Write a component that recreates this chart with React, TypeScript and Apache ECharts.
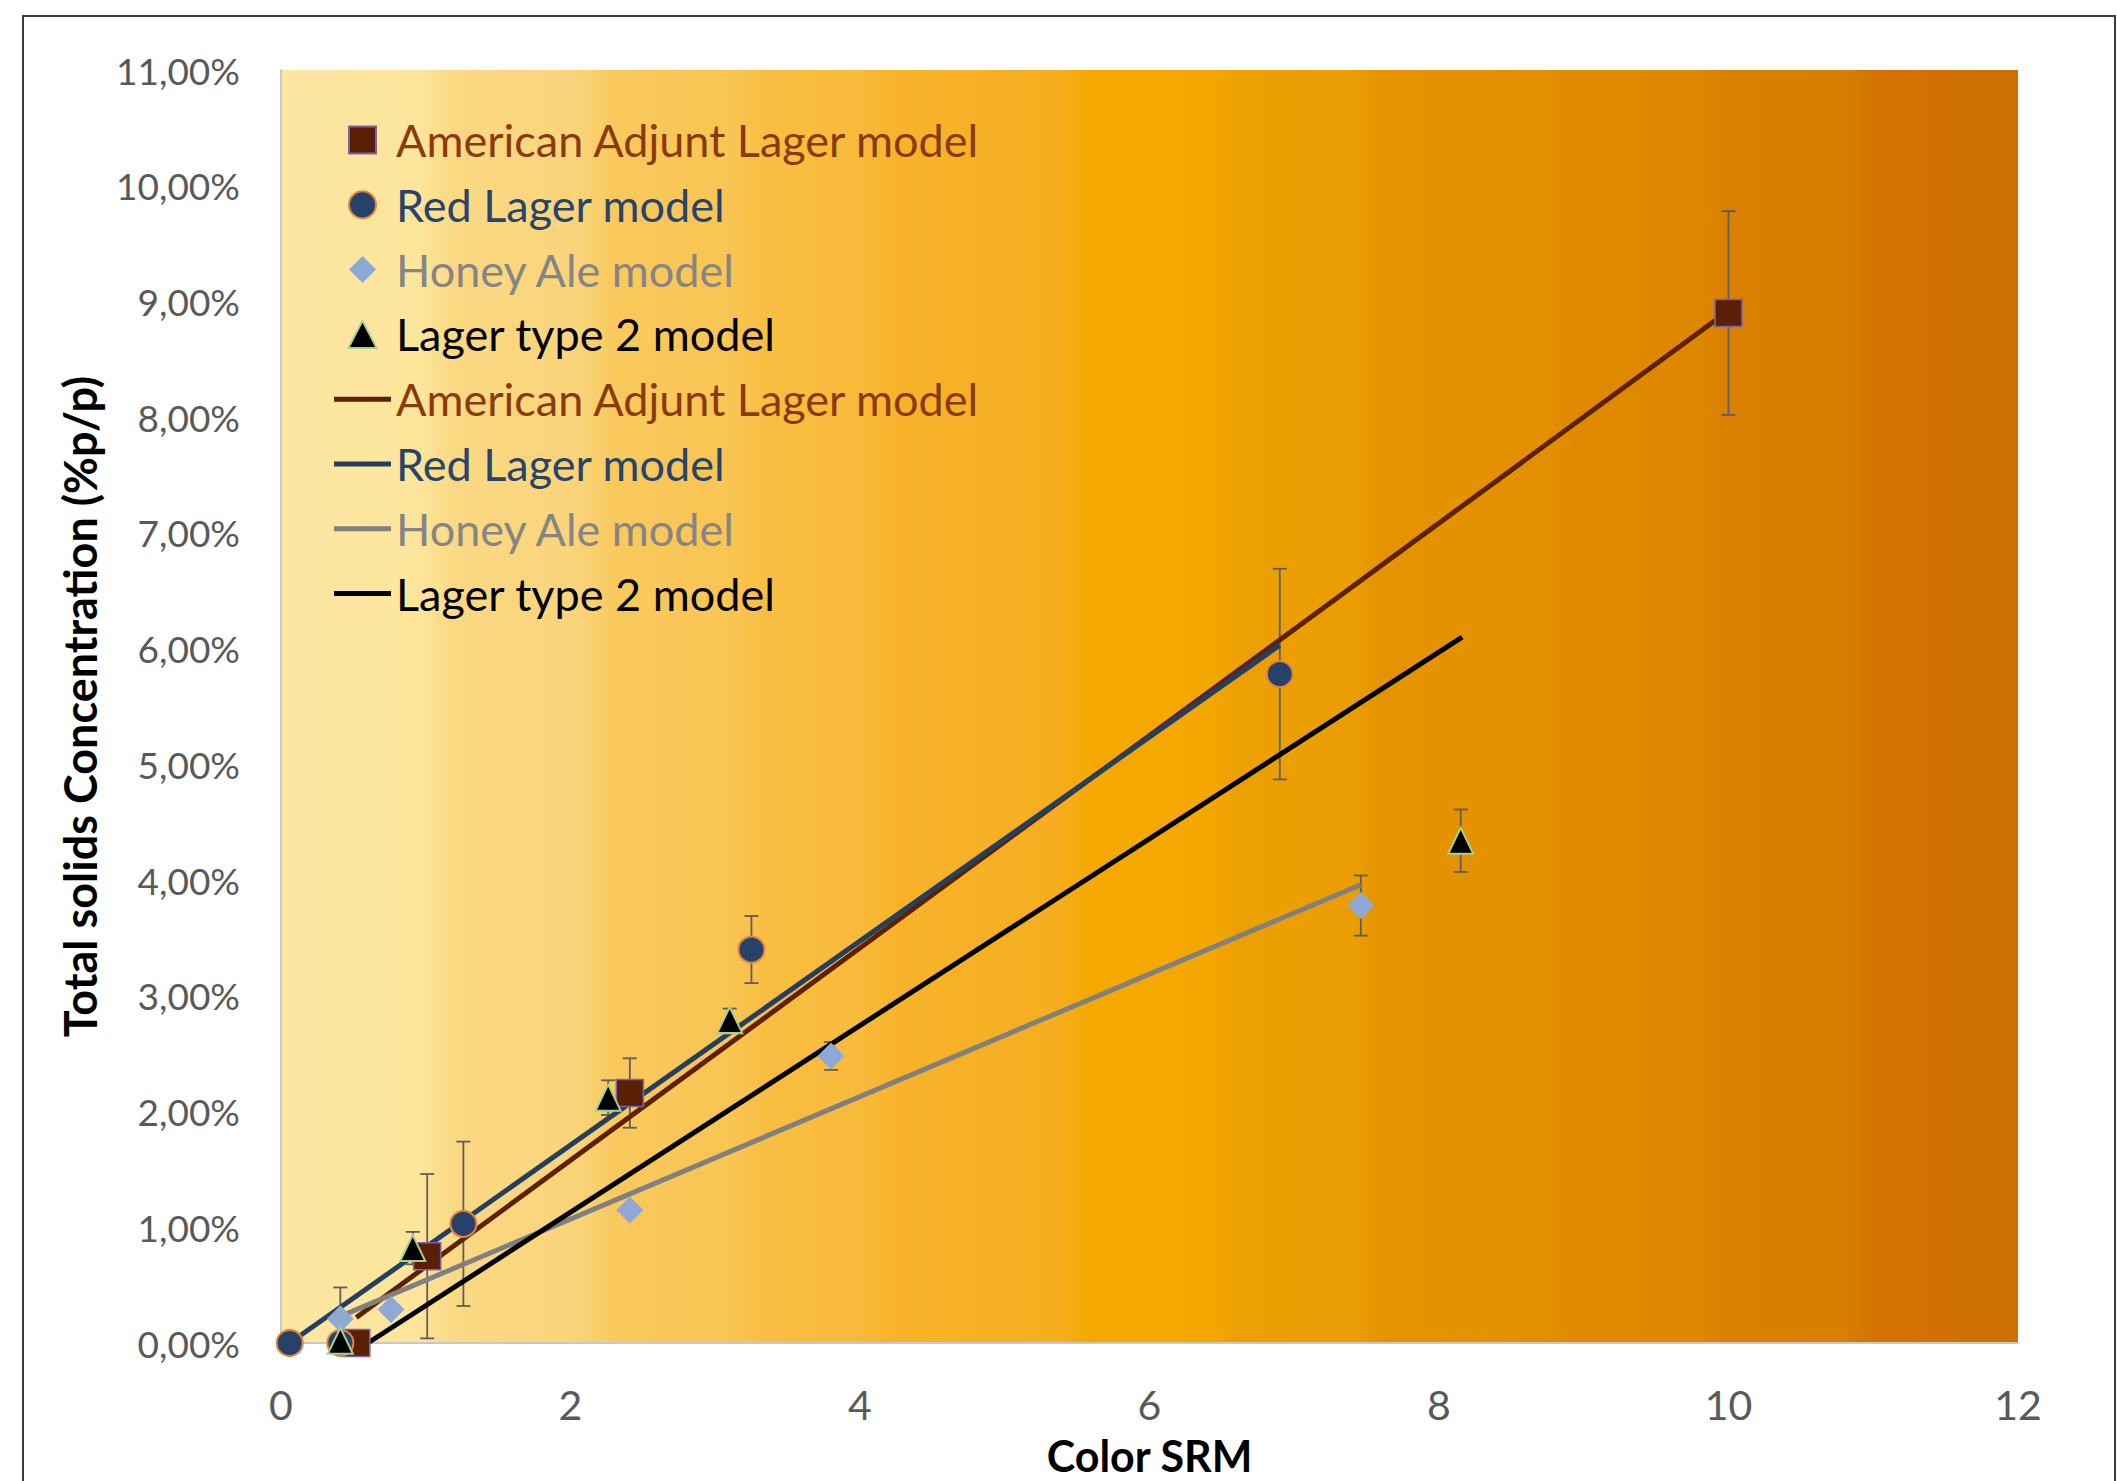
import React, { useEffect, useRef } from 'react';
import * as echarts from 'echarts';

// ---------- data ----------
const seriesNames = [
  'American Adjunt Lager model',
  'Red Lager model',
  'Honey Ale model',
  'Lager type 2 model',
];

// measured points: Color SRM (x) and total solids % p/p (y), error = +/- y
const aalX = [0.52, 1.01, 2.41, 10.0];
const aalY = [0.0, 0.75, 2.16, 8.9];
const aalErr = [0, 0.71, 0.3, 0.88];

const redX = [0.06, 0.41, 1.26, 3.25, 6.9];
const redY = [0.0, 0.0, 1.03, 3.4, 5.78];
const redErr = [0, 0, 0.71, 0.29, 0.91];

const honeyX = [0.41, 0.76, 2.41, 3.8, 7.46];
const honeyY = [0.21, 0.29, 1.15, 2.48, 3.78];
const honeyErr = [0.27, 0, 0, 0.12, 0.26];

const lt2X = [0.41, 0.91, 2.26, 3.1, 8.15];
const lt2Y = [0.02, 0.82, 2.12, 2.79, 4.34];
const lt2Err = [0, 0.14, 0.15, 0.1, 0.27];

// model (trend) lines: endpoints
const aalLineX = [0.52, 10.0];
const aalLineY = [0.22, 8.92];
const redLineX = [0.06, 6.9];
const redLineY = [0.0, 6.03];
const honeyLineX = [0.41, 7.46];
const honeyLineY = [0.23, 3.96];
const lt2LineX = [0.6, 8.16];
const lt2LineY = [0.0, 6.1];

// axis ticks
const xTicks = ['0', '2', '4', '6', '8', '10', '12'];
const yTickLabels = [
  '0,00%', '1,00%', '2,00%', '3,00%', '4,00%', '5,00%',
  '6,00%', '7,00%', '8,00%', '9,00%', '10,00%', '11,00%',
];

// SRM colour scale behind the plot: [SRM position, colour]
const bgStops: [number, string][] = [
  [0, '#FCE6A2'],
  [0.95, '#FDE59B'],
  [1.2, '#FAD983'],
  [2.05, '#FAD47A'],
  [2.3, '#F9C95D'],
  [3.1, '#F9C553'],
  [3.35, '#F8BE42'],
  [4.0, '#F8BA3A'],
  [4.25, '#F7B32B'],
  [5.35, '#F6AE20'],
  [5.6, '#F5A900'],
  [6.45, '#F4A700'],
  [6.6, '#ECA004'],
  [7.4, '#EB9E03'],
  [7.6, '#E59400'],
  [8.75, '#E39000'],
  [8.95, '#DF8900'],
  [9.8, '#DE8700'],
  [10.0, '#D98000'],
  [10.8, '#D87E00'],
  [11.0, '#D27300'],
  [12, '#CE6F04'],
];

const FONT = 'Lato';

const pts = (xs: number[], ys: number[]) => xs.map((x, i) => [x, ys[i]]);
const errPts = (xs: number[], ys: number[], es: number[]) =>
  xs.map((x, i) => [x, ys[i], es[i]]).filter((d) => d[2] > 0);

function errorBarSeries(data: number[][]) {
  return {
    type: 'custom',
    clip: true,
    z: 1,
    silent: true,
    data,
    renderItem: (_params: any, api: any) => {
      const x = api.value(0);
      const y = api.value(1);
      const e = api.value(2);
      const top = api.coord([x, y + e]);
      const bot = api.coord([x, y - e]);
      const hw = 7;
      const style = { stroke: '#5E5E5E', lineWidth: 1.8 };
      return {
        type: 'group',
        children: [
          { type: 'line', shape: { x1: top[0], y1: top[1], x2: bot[0], y2: bot[1] }, style },
          { type: 'line', shape: { x1: top[0] - hw, y1: top[1], x2: top[0] + hw, y2: top[1] }, style },
          { type: 'line', shape: { x1: bot[0] - hw, y1: bot[1], x2: bot[0] + hw, y2: bot[1] }, style },
        ],
      };
    },
  };
}

const lineColors = ['#5E2100', '#253F61', '#808080', '#000000'];
const textColors = ['#8A3A0E', '#27446C', '#858585', '#000000'];

// legend icons (paths keep their aspect inside the legend item box)
const markerIcons = [
  'path://M0,0H10V10H0Z',
  'path://M5,0A5,5,0,1,1,5,10A5,5,0,1,1,5,0Z',
  'path://M5,0L10,5L5,10L0,5Z',
  'path://M12.5,0L25,24L0,24Z',
];
const lineIcon = 'path://M0,0H57V5H0Z';

export default function App() {
  const ref = useRef<HTMLDivElement>(null);

  useEffect(() => {
    if (!ref.current) return;
    const chart = echarts.init(ref.current, null, { renderer: 'svg' });

    const lineName = (n: string) => n + ' ';

    const option: any = {
      animation: false,
      backgroundColor: '#FFFFFF',
      grid: {
        left: 281,
        top: 70,
        width: 1737,
        height: 1273,
        containLabel: false,
        outerBoundsMode: 'none',
        show: true,
        borderWidth: 0,
        backgroundColor: {
          type: 'linear',
          x: 0,
          y: 0,
          x2: 1,
          y2: 0,
          colorStops: bgStops.map(([p, c]) => ({ offset: p / 12, color: c })),
        },
      },
      graphic: [
        {
          type: 'rect',
          silent: true,
          shape: { x: 23, y: 16, width: 2092, height: 1500 },
          style: { fill: 'none', stroke: '#3C3C3C', lineWidth: 2 },
          z: 100,
        },
      ],
      legend: {
        orient: 'vertical',
        left: 334,
        top: 116,
        itemWidth: 57,
        itemHeight: 27,
        itemGap: 16.8,
        padding: 0,
        symbolKeepAspect: true,
        formatter: (n: string) => n.trim(),
        textStyle: { fontFamily: FONT, fontSize: 45, lineHeight: 48 },
        data: [
          ...seriesNames.map((n, i) => ({
            name: n,
            icon: markerIcons[i],
            textStyle: { color: textColors[i] },
          })),
          ...seriesNames.map((n, i) => ({
            name: lineName(n),
            icon: lineIcon,
            itemStyle: { color: lineColors[i] },
            textStyle: { color: textColors[i] },
          })),
        ],
      },
      xAxis: {
        type: 'value',
        min: 0,
        max: 12,
        interval: 2,
        name: 'Color SRM',
        nameLocation: 'middle',
        nameGap: 92,
        nameTextStyle: {
          fontFamily: FONT,
          fontWeight: 'bold',
          fontSize: 43,
          lineHeight: 40,
          color: '#000000',
        },
        axisLine: { show: true, lineStyle: { color: '#C8C8C8', width: 2 } },
        axisTick: { show: false },
        splitLine: { show: false },
        axisLabel: {
          fontFamily: FONT,
          fontSize: 41,
          color: '#595959',
          margin: 41,
          formatter: (v: number) => xTicks[Math.round(v / 2)],
        },
      },
      yAxis: {
        type: 'value',
        min: 0,
        max: 11,
        interval: 1,
        name: 'Total solids Concentration (%p/p)',
        nameLocation: 'middle',
        nameRotate: 90,
        nameGap: 179,
        nameTextStyle: { fontFamily: FONT, fontWeight: 'bold', fontSize: 45, color: '#000000' },
        axisLine: { show: true, lineStyle: { color: '#C8C8C8', width: 2 } },
        axisTick: { show: false },
        splitLine: { show: false },
        axisLabel: {
          fontFamily: FONT,
          fontSize: 37,
          color: '#595959',
          margin: 41,
          formatter: (v: number) => yTickLabels[Math.round(v)],
        },
      },
      series: [
        errorBarSeries(errPts(aalX, aalY, aalErr)),
        errorBarSeries(errPts(redX, redY, redErr)),
        errorBarSeries(errPts(honeyX, honeyY, honeyErr)),
        errorBarSeries(errPts(lt2X, lt2Y, lt2Err)),
        ...[
          [aalLineX, aalLineY],
          [redLineX, redLineY],
          [honeyLineX, honeyLineY],
          [lt2LineX, lt2LineY],
        ].map(([xs, ys], i) => ({
          name: lineName(seriesNames[i]),
          type: 'line',
          symbol: 'none',
          showSymbol: false,
          z: 2,
          data: pts(xs, ys),
          lineStyle: { color: lineColors[i], width: 5 },
          itemStyle: { color: lineColors[i] },
        })),
        {
          name: seriesNames[0],
          type: 'scatter',
          z: 3,
          symbol: 'rect',
          symbolSize: 27,
          data: pts(aalX, aalY),
          itemStyle: { color: '#5A1F04', borderColor: '#7D62A8', borderWidth: 1.6, opacity: 1 },
        },
        {
          name: seriesNames[1],
          type: 'scatter',
          z: 3,
          symbol: 'circle',
          symbolSize: 26,
          data: pts(redX, redY),
          itemStyle: { color: '#26426A', borderColor: '#E3843A', borderWidth: 2, opacity: 1 },
        },
        {
          name: seriesNames[2],
          type: 'scatter',
          z: 3,
          symbol: 'diamond',
          symbolSize: 27,
          data: pts(honeyX, honeyY),
          itemStyle: { color: '#8FA9D7', opacity: 1 },
        },
        {
          name: seriesNames[3],
          type: 'scatter',
          z: 3,
          symbol: 'triangle',
          symbolSize: [25, 26],
          data: pts(lt2X, lt2Y),
          itemStyle: { color: '#000000', borderColor: '#A8D08D', borderWidth: 2, opacity: 1 },
        },
      ],
    };

    chart.setOption(option);
    return () => chart.dispose();
  }, []);

  return (
    <div
      ref={ref}
      style={{ position: 'fixed', left: 0, top: 0, width: 2117, height: 1481, background: '#FFFFFF' }}
    />
  );
}
